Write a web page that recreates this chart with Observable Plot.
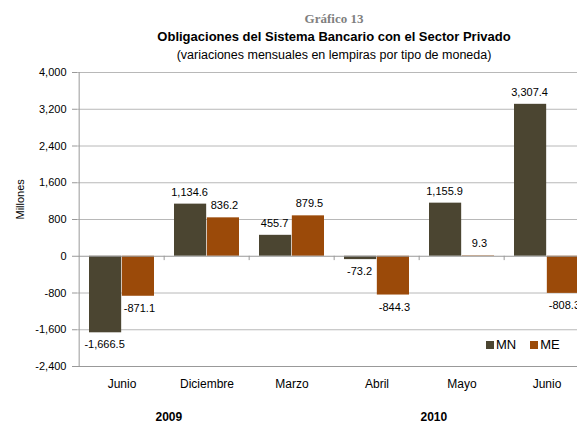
<!DOCTYPE html>
<html>
<head>
<meta charset="utf-8">
<script src="https://cdn.jsdelivr.net/npm/d3@7"></script>
<script src="https://cdn.jsdelivr.net/npm/@observablehq/plot@0.6"></script>
<style>
  html, body { margin: 0; padding: 0; background: #fff; overflow: hidden; }
  body { width: 577px; height: 426px; position: relative; font-family: "Liberation Sans", Arial, sans-serif; }
  #head { position: relative; height: 62px; width: 514px; margin-left: 77px; text-align: center; }
  #g13 { position: absolute; left: 0; right: 0; top: 11px; font-family: "Liberation Serif", serif; font-weight: bold; font-size: 13px; color: #7f7f7f; line-height: 16px; }
  #t1 { position: absolute; left: 0; right: 0; top: 29px; font-weight: bold; font-size: 13px; color: #000; line-height: 16px; }
  #t2 { position: absolute; left: 0; right: 0; top: 47px; font-size: 12.5px; color: #000; line-height: 16px; }
  #chart svg { display: block; overflow: hidden; }
  #legend { position: absolute; left: 486px; top: 337px; }
  .lg-swatches-wrap { min-height: 0 !important; margin: 0 !important; }
  .lg-swatches { min-height: 0 !important; margin: 0 !important; }
  .lg-swatch { margin-right: 14px !important; font-family: "Liberation Sans", Arial, sans-serif !important; font-size: 13px !important; color: #000; }
  .lg-swatch > svg { margin-right: 2px !important; }
</style>
</head>
<body>
<div id="head">
  <div id="g13">Gráfico 13</div>
  <div id="t1">Obligaciones del Sistema Bancario con el Sector Privado</div>
  <div id="t2">(variaciones mensuales en lempiras por tipo de moneda)</div>
</div>
<div id="chart"></div>
<div id="legend"></div>
<script>
// ---- data ----
const months = ["Junio 2009", "Diciembre 2009", "Marzo 2010", "Abril 2010", "Mayo 2010", "Junio 2010"];
const mnValues = [-1666.5, 1134.6, 455.7, -73.2, 1155.9, 3307.4];
const meValues = [-871.1, 836.2, 879.5, -844.3, 9.3, -808.3];
const series = ["MN", "ME"];
const colors = ["#4b4531", "#9b4a09"];
const yTicks = [-2400, -1600, -800, 0, 800, 1600, 2400, 3200, 4000];
const years = [
  {label: "2009", at: "Junio 2009"},
  {label: "2010", at: "Abril 2010"}
];

const rows = [];
months.forEach((m, i) => {
  rows.push({month: m, serie: "MN", value: mnValues[i]});
  rows.push({month: m, serie: "ME", value: meValues[i]});
});

const x0 = 77, x1 = 591;
const step = (x1 - x0) / months.length;
const half = step / 2;
const pad = 10;
const barOff = (half - pad) / 2;
const loc = d3.formatLocale({decimal: ".", thousands: ",", grouping: [3], currency: ["", ""], minus: "-"});
const fmt = loc.format(",.1f");
const fmtTick = loc.format(",");
const colorOf = s => colors[series.indexOf(s)];

const mn = rows.filter(d => d.serie === "MN");
const me = rows.filter(d => d.serie === "ME");
const lab = {fontSize: 11, fill: "#000"};

const plot = Plot.plot({
  width: 577,
  height: 364,
  marginTop: 10,
  marginBottom: 60,
  marginLeft: 77,
  marginRight: 0,
  style: {fontFamily: "Liberation Sans, Arial, sans-serif", fontSize: "11px", color: "#000", background: "#fff"},
  x: {domain: months, range: [x0, x1], padding: 0, label: null},
  y: {domain: [-2400, 4000], label: null},
  marks: [
    Plot.ruleY(yTicks.filter(t => t !== 0), {stroke: "#b8b8b8", strokeWidth: 1}),
    Plot.ruleY([-2400], {stroke: "#999", strokeWidth: 1}),
    Plot.barY(mn, {x: "month", y: "value", fill: d => colorOf(d.serie), insetLeft: pad, insetRight: half}),
    Plot.barY(me, {x: "month", y: "value", fill: d => colorOf(d.serie), insetLeft: half, insetRight: pad}),
    Plot.ruleY([0], {stroke: "#999", strokeWidth: 1}),
    Plot.ruleX(months.slice(1), {x: d => d, y1: 0, y2: -95, dx: -half, stroke: "#999"}),
    Plot.ruleX([months[0]], {dx: -half, stroke: "#999"}),
    Plot.axisY({ticks: yTicks, tickFormat: fmtTick, tickSize: 5, tickPadding: 6, stroke: "#999", fontSize: 11, fill: "#000", label: null}),
    Plot.axisX({tickSize: 0, tickPadding: 13, tickFormat: d => d.split(" ")[0], fontSize: 12, fill: "#000", label: null}),
    Plot.text(["Millones"], {frameAnchor: "left", dx: -57, rotate: -90, ...lab}),
    Plot.text(mn.filter(d => d.value >= 0), {x: "month", y: "value", text: d => fmt(d.value), dx: -barOff - 1, dy: -12, ...lab}),
    Plot.text(mn.filter(d => d.value < 0), {x: "month", y: "value", text: d => fmt(d.value), dx: -barOff - 1, dy: 12, ...lab}),
    Plot.text(me.filter(d => d.value >= 0), {x: "month", y: "value", text: d => fmt(d.value), dx: barOff + 1, dy: -12, ...lab}),
    Plot.text(me.filter(d => d.value < 0), {x: "month", y: "value", text: d => fmt(d.value), dx: barOff + 1, dy: 12, ...lab}),
    Plot.text(years.slice(0, 1), {x: "at", text: "label", frameAnchor: "bottom", dy: 54, dx: half + 4, fontWeight: "bold", fontSize: 12, fill: "#000"}),
    Plot.text(years.slice(1), {x: "at", text: "label", frameAnchor: "bottom", dy: 54, dx: half + 14, fontWeight: "bold", fontSize: 12, fill: "#000"})
  ]
});
document.getElementById("chart").appendChild(plot);

const lg = Plot.legend({
  color: {domain: series, range: colors, type: "ordinal"},
  legend: "swatches",
  swatchSize: 8,
  className: "lg"
});
document.getElementById("legend").appendChild(lg);
</script>
</body>
</html>
